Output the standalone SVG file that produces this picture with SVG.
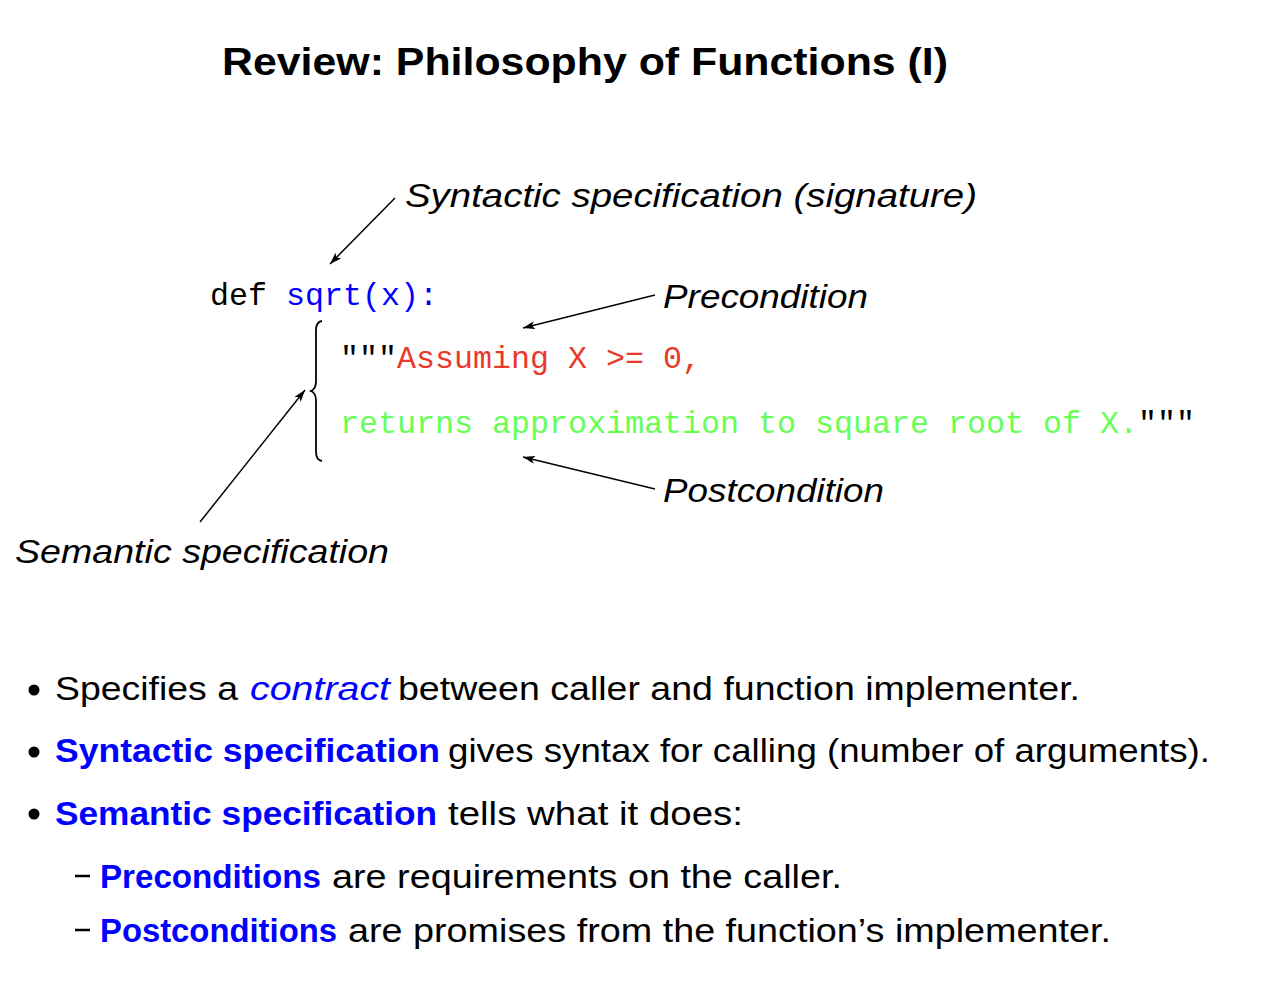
<svg xmlns="http://www.w3.org/2000/svg" width="1282" height="990" viewBox="0 0 1282 990">
<defs>
<marker id="ah" viewBox="0 0 12 8" refX="12" refY="4" markerWidth="12" markerHeight="8" markerUnits="userSpaceOnUse" orient="auto">
<path d="M0,0 L12,4 L0,8 L3,4 Z" fill="#000"/>
</marker>
<style>
.title{font-family:"Liberation Sans","DejaVu Sans",sans-serif;font-weight:bold;font-size:38px;fill:#000}
.lbl{font-family:"Liberation Sans","DejaVu Sans",sans-serif;font-style:italic;font-size:33px;fill:#000}
.code{font-family:"Liberation Mono","DejaVu Sans Mono",monospace;font-size:31.5px}
.txt{font-family:"Liberation Sans","DejaVu Sans",sans-serif;font-size:33px;fill:#000}
.em{font-family:"Liberation Sans","DejaVu Sans",sans-serif;font-size:33px;fill:#0000ff}
.b{font-weight:bold}
.i{font-style:italic}
.conn line{stroke:#000;stroke-width:1.5;marker-end:url(#ah)}
</style>
</defs>
<rect width="1282" height="990" fill="#fff"/>
<g id="title"><text class="title" x="222" y="75" textLength="726" lengthAdjust="spacingAndGlyphs">Review: Philosophy of Functions (I)</text></g>

<g id="code">
<text class="code" x="210" y="305" fill="#000" textLength="57" lengthAdjust="spacingAndGlyphs">def</text>
<text class="code" x="286" y="305" fill="#0000ff" textLength="152" lengthAdjust="spacingAndGlyphs">sqrt(x):</text>
<text class="code" x="340" y="368" fill="#000" textLength="57" lengthAdjust="spacingAndGlyphs">"""</text>
<text class="code" x="397" y="368" fill="#e8392a" textLength="304" lengthAdjust="spacingAndGlyphs">Assuming X &gt;= 0,</text>
<text class="code" x="340" y="433" fill="#66ff55" textLength="798" lengthAdjust="spacingAndGlyphs">returns approximation to square root of X.</text>
<text class="code" x="1138" y="433" fill="#000" textLength="57" lengthAdjust="spacingAndGlyphs">"""</text>
</g>

<g id="brace"><path d="M322,321 Q316,322 316,330 L316,381 Q316,389 311,391 Q316,393 316,401 L316,452 Q316,460 322,461" fill="none" stroke="#000" stroke-width="1.8"/></g>

<g id="label-syntactic"><text class="lbl" x="405" y="207" textLength="572" lengthAdjust="spacingAndGlyphs">Syntactic specification (signature)</text></g>
<g id="label-precondition"><text class="lbl" x="663" y="308" textLength="205" lengthAdjust="spacingAndGlyphs">Precondition</text></g>
<g id="label-postcondition"><text class="lbl" x="663" y="502" textLength="221" lengthAdjust="spacingAndGlyphs">Postcondition</text></g>
<g id="label-semantic"><text class="lbl" x="15" y="563" textLength="374" lengthAdjust="spacingAndGlyphs">Semantic specification</text></g>

<g id="connectors" class="conn">
<line x1="395" y1="198" x2="330" y2="264"/>
<line x1="655" y1="295" x2="523" y2="328"/>
<line x1="655" y1="489" x2="523" y2="457"/>
<line x1="200" y1="522" x2="305" y2="390"/>
</g>

<g id="bullets">
<circle cx="34" cy="690" r="5.5" fill="#000"/>
<text class="txt" x="55" y="700" textLength="183" lengthAdjust="spacingAndGlyphs">Specifies a</text>
<text class="em i" x="250" y="700" textLength="140" lengthAdjust="spacingAndGlyphs">contract</text>
<text class="txt" x="398" y="700" textLength="682" lengthAdjust="spacingAndGlyphs">between caller and function implementer.</text>

<circle cx="34" cy="752" r="5.5" fill="#000"/>
<text class="em b" x="55" y="762" textLength="385" lengthAdjust="spacingAndGlyphs">Syntactic specification</text>
<text class="txt" x="448" y="762" textLength="762" lengthAdjust="spacingAndGlyphs">gives syntax for calling (number of arguments).</text>

<circle cx="34" cy="814" r="5.5" fill="#000"/>
<text class="em b" x="55" y="825" textLength="382" lengthAdjust="spacingAndGlyphs">Semantic specification</text>
<text class="txt" x="448" y="825" textLength="295" lengthAdjust="spacingAndGlyphs">tells what it does:</text>

<line x1="75" y1="876" x2="90" y2="876" stroke="#000" stroke-width="2.5"/>
<text class="em b" x="100" y="888" textLength="221" lengthAdjust="spacingAndGlyphs">Preconditions</text>
<text class="txt" x="332" y="888" textLength="510" lengthAdjust="spacingAndGlyphs">are requirements on the caller.</text>

<line x1="75" y1="930" x2="90" y2="930" stroke="#000" stroke-width="2.5"/>
<text class="em b" x="100" y="942" textLength="237" lengthAdjust="spacingAndGlyphs">Postconditions</text>
<text class="txt" x="348" y="942" textLength="763" lengthAdjust="spacingAndGlyphs">are promises from the function’s implementer.</text>
</g>
</svg>
